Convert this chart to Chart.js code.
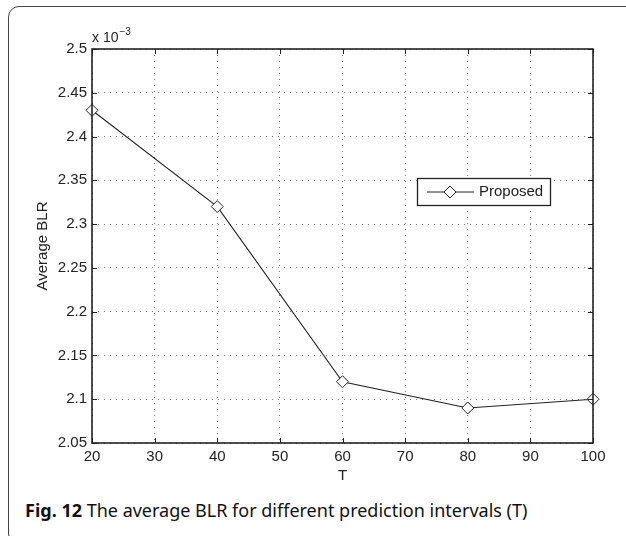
<!DOCTYPE html>
<html>
<head>
<meta charset="utf-8">
<script src="https://cdn.jsdelivr.net/npm/chart.js@4"></script>
<style>
  html, body { margin: 0; padding: 0; background: #fff; }
  body { width: 626px; height: 536px; position: relative; overflow: hidden; }
  #frame {
    position: absolute; left: 8px; top: 6px; width: 700px; height: 539px;
    border: 1.5px solid #444; border-radius: 11px; box-sizing: border-box;
  }
  #wrap { position: absolute; left: 0; top: 0; width: 626px; height: 490px; }
  #caption {
    position: absolute; left: 25px; top: 501px; white-space: nowrap;
    font-family: "Noto Sans", sans-serif; font-size: 18px; line-height: 18px; color: #111;
  }
</style>
</head>
<body>
<div id="frame"></div>
<div id="wrap"><canvas id="blrChart" width="626" height="490"></canvas></div>
<div id="caption"><b>Fig. 12</b> The average BLR for different prediction intervals (T)</div>
<script>
const tValues = [20, 40, 60, 80, 100];
const blrValues = [2.43, 2.32, 2.12, 2.09, 2.10];   // x 10^-3
const xTicks = [20, 30, 40, 50, 60, 70, 80, 90, 100];
const yTicks = [2.05, 2.1, 2.15, 2.2, 2.25, 2.3, 2.35, 2.4, 2.45, 2.5];
const seriesName = 'Proposed';

const tickFont = { family: '"Liberation Sans", Arial, sans-serif', size: 15 };
const ink = '#222';

// MATLAB style box: frame, inward ticks, exponent label, legend
const matlabBox = {
    id: 'matlabBox',
    afterDraw(chart) {
        const { ctx, chartArea: a, scales } = chart;
        const xs = scales.x, ys = scales.y;
        ctx.save();
        ctx.strokeStyle = ink;
        ctx.lineWidth = 1;
        ctx.beginPath();
        xTicks.forEach(v => {
            const px = Math.round(xs.getPixelForValue(v)) + 0.5;
            ctx.moveTo(px, a.bottom); ctx.lineTo(px, a.bottom - 5);
            ctx.moveTo(px, a.top); ctx.lineTo(px, a.top + 5);
        });
        yTicks.forEach(v => {
            const py = Math.round(ys.getPixelForValue(v)) + 0.5;
            ctx.moveTo(a.left, py); ctx.lineTo(a.left + 5, py);
            ctx.moveTo(a.right, py); ctx.lineTo(a.right - 5, py);
        });
        ctx.stroke();
        ctx.lineWidth = 1.6;
        ctx.strokeRect(a.left, a.top, a.right - a.left, a.bottom - a.top);

        // exponent
        ctx.fillStyle = ink;
        ctx.textBaseline = 'alphabetic';
        ctx.font = '14px "Liberation Sans", Arial, sans-serif';
        ctx.fillText('x 10', a.left, a.top - 7);
        const w = ctx.measureText('x 10').width;
        ctx.font = '10px "Liberation Sans", Arial, sans-serif';
        ctx.fillText('\u22123', a.left + w + 1, a.top - 14);

        // legend
        const ds = chart.data.datasets[0];
        const lx = 417, ly = 178, lw = 133, lh = 27;
        ctx.fillStyle = '#fff';
        ctx.fillRect(lx, ly, lw, lh);
        ctx.lineWidth = 1.3;
        ctx.strokeStyle = ink;
        ctx.strokeRect(lx + 0.5, ly + 0.5, lw, lh);
        const my = ly + lh / 2 + 0.5;
        ctx.lineWidth = 1;
        ctx.beginPath();
        ctx.moveTo(lx + 10, my); ctx.lineTo(lx + 57, my);
        ctx.stroke();
        ctx.fillStyle = '#fff';
        Chart.helpers.drawPoint(ctx, {
            pointStyle: ds.pointStyle, radius: ds.pointRadius,
            borderWidth: ds.pointBorderWidth, rotation: 0
        }, lx + 33, my);
        ctx.fillStyle = ink;
        ctx.font = '15px "Liberation Sans", Arial, sans-serif';
        ctx.textBaseline = 'middle';
        ctx.fillText(ds.label, lx + 62, my);
        ctx.restore();
    }
};

const chartData = {
    datasets: [{
        label: seriesName,
        data: tValues.map((t, i) => ({ x: t, y: blrValues[i] })),
        borderColor: ink,
        borderWidth: 1.1,
        backgroundColor: '#fff',
        pointStyle: 'rectRot',
        pointRadius: 6,
        pointBorderWidth: 1,
        pointBackgroundColor: '#fff',
        pointBorderColor: ink,
        tension: 0,
        clip: false
    }]
};

const gridOpts = { color: '#777', lineWidth: 1, drawTicks: false };

new Chart(document.getElementById('blrChart').getContext('2d'), {
    type: 'line',
    data: chartData,
    options: {
        responsive: false,
        animation: false,
        events: [],
        layout: { padding: { left: 30, top: 49, right: 33, bottom: 0 } },
        plugins: { legend: { display: false }, tooltip: { enabled: false } },
        scales: {
            x: {
                type: 'linear', min: 20, max: 100,
                afterBuildTicks: s => { s.ticks = xTicks.map(v => ({ value: v })); },
                afterFit: s => { s.height = 47; },
                grid: gridOpts,
                border: { display: false, dash: [1, 5] },
                ticks: { color: ink, font: tickFont, padding: 5, maxRotation: 0 },
                title: { display: true, text: 'T', color: ink, font: tickFont, padding: { top: 2, bottom: 5 } }
            },
            y: {
                type: 'linear', min: 2.05, max: 2.5,
                afterBuildTicks: s => { s.ticks = yTicks.map(v => ({ value: v })); },
                afterFit: s => { s.width = 62; },
                grid: gridOpts,
                border: { display: false, dash: [1, 5] },
                ticks: {
                    color: ink, font: tickFont, padding: 5,
                    callback: v => String(Number(v.toFixed(2)))
                },
                title: { display: true, text: 'Average BLR', color: ink, font: tickFont, padding: { top: 4, bottom: 0 } }
            }
        }
    },
    plugins: [matlabBox]
});
</script>
</body>
</html>
